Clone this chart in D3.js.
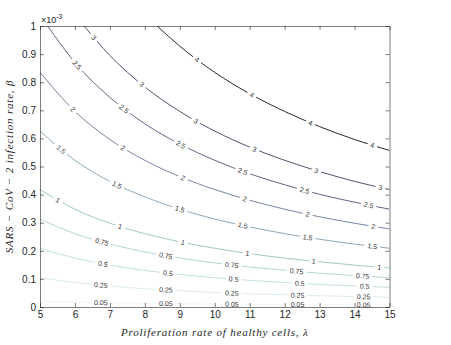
<!DOCTYPE html>
<html><head><meta charset="utf-8">
<script src="https://cdn.jsdelivr.net/npm/d3@7"></script>
<style>
html,body{margin:0;padding:0;background:#fff;}
svg{display:block;}
</style></head>
<body>
<svg id="chart" width="451" height="345"></svg>
<script>
// ---- data ----
const levels = [0.05, 0.25, 0.5, 0.75, 1, 1.5, 2, 2.5, 3, 4];
const levelColors = ["#eef5f4","#d6ebe7","#c0ddd9","#a9d2cd","#93c2bd","#7f9fb2","#677797","#51517b","#3d3d60","#111111"];
const xTicks = [5,6,7,8,9,10,11,12,13,14,15];
const yTicks = [0,0.1,0.2,0.3,0.4,0.5,0.6,0.7,0.8,0.9,1];
const lambdaGrid = [5,6,7,8,9,10,11,12,13,14,15];
// beta values (x 1e-3) of each contour line at lambdaGrid
const beta_0_05 = [0.021,0.0174,0.0149,0.013,0.0116,0.0104,0.0095,0.0087,0.008,0.0075,0.007];
const beta_0_25 = [0.104,0.087,0.075,0.065,0.058,0.052,0.047,0.0435,0.040,0.037,0.035];
const beta_0_5  = [0.209,0.174,0.149,0.130,0.116,0.104,0.095,0.087,0.080,0.075,0.070];
const beta_0_75 = [0.313,0.261,0.224,0.196,0.174,0.157,0.142,0.131,0.120,0.112,0.104];
const beta_1    = [0.418,0.348,0.298,0.261,0.232,0.209,0.190,0.174,0.161,0.149,0.139];
const beta_1_5  = [0.626,0.522,0.447,0.392,0.348,0.313,0.285,0.261,0.241,0.224,0.209];
const beta_2    = [0.835,0.696,0.596,0.522,0.464,0.418,0.380,0.348,0.321,0.298,0.278];
// contours that leave through the top edge: [lambda, beta] points
const line_2_5 = [[5.22,1],[6,0.870],[7,0.746],[8,0.652],[9,0.580],[10,0.522],[11,0.474],[12,0.435],[13,0.401],[14,0.373],[15,0.348]];
const line_3   = [[6.26,1],[7,0.895],[8,0.783],[9,0.696],[10,0.626],[11,0.569],[12,0.522],[13,0.482],[14,0.447],[15,0.418]];
const line_4   = [[8.35,1],[9,0.928],[10,0.835],[11,0.759],[12,0.696],[13,0.642],[14,0.596],[15,0.557]];
// lambda positions of the inline labels
const labels_0_05 = [6.74, 8.6, 10.49, 12.37, 14.26];
const labels_0_25 = [6.74, 8.6, 10.49, 12.37, 14.26];
const labels_0_5  = [6.8, 8.66, 10.54, 12.43, 14.29];
const labels_0_75 = [6.77, 8.6, 10.49, 12.34, 14.23];
const labels_1    = [5.51, 7.29, 9.09, 10.94, 12.83, 14.71];
const labels_1_5  = [5.6, 7.2, 9.0, 10.8, 12.66, 14.51];
const labels_2    = [5.94, 7.37, 9.09, 10.86, 12.66, 14.54];
const labels_2_5  = [6.06, 7.4, 9.03, 10.8, 12.57, 14.4];
const labels_3    = [6.54, 7.91, 9.46, 11.14, 12.91, 14.74];
const labels_4    = [9.49, 11.06, 12.74, 14.51];

const zip = b => lambdaGrid.map((l,i)=>[l,b[i]]);
const contours = [
  {level:0.05, pts:zip(beta_0_05), labels:labels_0_05},
  {level:0.25, pts:zip(beta_0_25), labels:labels_0_25},
  {level:0.5,  pts:zip(beta_0_5),  labels:labels_0_5},
  {level:0.75, pts:zip(beta_0_75), labels:labels_0_75},
  {level:1,    pts:zip(beta_1),    labels:labels_1},
  {level:1.5,  pts:zip(beta_1_5),  labels:labels_1_5},
  {level:2,    pts:zip(beta_2),    labels:labels_2},
  {level:2.5,  pts:line_2_5,       labels:labels_2_5},
  {level:3,    pts:line_3,         labels:labels_3},
  {level:4,    pts:line_4,         labels:labels_4}
];

// ---- layout ----
const L = 40, R = 389.5, T = 26, B = 307;
const x = d3.scaleLinear().domain([5,15]).range([L,R]);
const y = d3.scaleLinear().domain([0,1]).range([B,T]);
const color = d3.scaleOrdinal().domain(levels).range(levelColors);
const SANS = "'Liberation Sans', Arial, Helvetica, sans-serif";
const SERIF = "'Liberation Serif', 'DejaVu Serif', serif";

const svg = d3.select("#chart");
svg.append("rect").attr("width",451).attr("height",345).attr("fill","#fff");
const defs = svg.append("defs");
defs.append("clipPath").attr("id","plotclip").append("rect")
  .attr("x",L).attr("y",T).attr("width",R-L).attr("height",B-T);
const mask = defs.append("mask").attr("id","gapmask").attr("maskUnits","userSpaceOnUse")
  .attr("x",0).attr("y",0).attr("width",451).attr("height",345);
mask.append("rect").attr("width",451).attr("height",345).attr("fill","#fff");

const lineGen = d3.line().x(d=>x(d[0])).y(d=>y(d[1])).curve(d3.curveMonotoneX);

const linesG = svg.append("g").attr("clip-path","url(#plotclip)")
  .append("g").attr("mask","url(#gapmask)");
const labelG = svg.append("g");

contours.forEach(c => {
  const p = linesG.append("path").attr("d", lineGen(c.pts))
    .attr("fill","none").attr("stroke", color(c.level)).attr("stroke-width",0.9);
  const node = p.node();
  const total = node.getTotalLength();
  c.labels.forEach(lam => {
    const px = x(lam);
    let lo = 0, hi = total;
    for (let k=0;k<40;k++){ const mid=(lo+hi)/2; if (node.getPointAtLength(mid).x < px) lo=mid; else hi=mid; }
    const len = (lo+hi)/2;
    const pt = node.getPointAtLength(len);
    const a = node.getPointAtLength(Math.max(0,len-3)), b = node.getPointAtLength(Math.min(total,len+3));
    const ang = Math.atan2(b.y-a.y, b.x-a.x)*180/Math.PI;
    const t = labelG.append("text")
      .attr("transform",`translate(${pt.x},${pt.y}) rotate(${ang})`)
      .attr("text-anchor","middle").attr("dy","0.35em")
      .attr("font-family",SANS).attr("font-size",7)
      .attr("fill","#333").text(String(c.level));
    const w = t.node().getComputedTextLength();
    mask.append("rect").attr("x",-w/2-3).attr("y",-4).attr("width",w+6).attr("height",8)
      .attr("transform",`translate(${pt.x},${pt.y}) rotate(${ang})`).attr("fill","#000");
  });
});

// ---- axes ----
const axCol = "#262626";
function styleAxis(g){
  g.attr("font-family",SANS);
  g.selectAll("path.domain").attr("stroke",axCol).attr("stroke-width",0.6);
  g.selectAll(".tick line").attr("stroke",axCol).attr("stroke-width",0.6);
  g.selectAll(".tick text").attr("fill","#262626").attr("font-family",SANS).attr("font-size",10);
}
svg.append("g").attr("transform",`translate(0,${B})`)
  .call(d3.axisBottom(x).tickValues(xTicks).tickSize(-4).tickSizeOuter(0).tickPadding(4).tickFormat(d3.format("d")))
  .call(styleAxis);
svg.append("g").attr("transform",`translate(0,${T})`)
  .call(d3.axisTop(x).tickValues(xTicks).tickSize(-4).tickSizeOuter(0).tickFormat(""))
  .call(styleAxis);
svg.append("g").attr("transform",`translate(${L},0)`)
  .call(d3.axisLeft(y).tickValues(yTicks).tickSize(-4).tickSizeOuter(0).tickPadding(4).tickFormat(d=>String(+d.toFixed(1))))
  .call(styleAxis);
svg.append("g").attr("transform",`translate(${R},0)`)
  .call(d3.axisRight(y).tickValues(yTicks).tickSize(-4).tickSizeOuter(0).tickFormat(""))
  .call(styleAxis);

// exponent
const ex = svg.append("text").attr("x",41).attr("y",22.5)
  .attr("font-family",SANS).attr("font-size",9).attr("fill","#262626");
ex.append("tspan").text("×10");
ex.append("tspan").attr("dy",-4).attr("font-size",7).text("-3");

// axis titles
svg.append("text").attr("x",(L+R)/2).attr("y",336).attr("text-anchor","middle")
  .attr("font-family",SERIF).attr("font-style","italic")
  .attr("font-size",11).attr("letter-spacing","0.8").attr("fill","#262626")
  .text("Proliferation rate of healthy cells,  λ");
svg.append("text").attr("transform",`translate(13,${(T+B)/2}) rotate(-90)`).attr("text-anchor","middle")
  .attr("font-family",SERIF).attr("font-style","italic")
  .attr("font-size",11).attr("letter-spacing","0.8").attr("fill","#262626")
  .text("SARS − CoV − 2 infection rate,  β");
</script>
</body></html>
